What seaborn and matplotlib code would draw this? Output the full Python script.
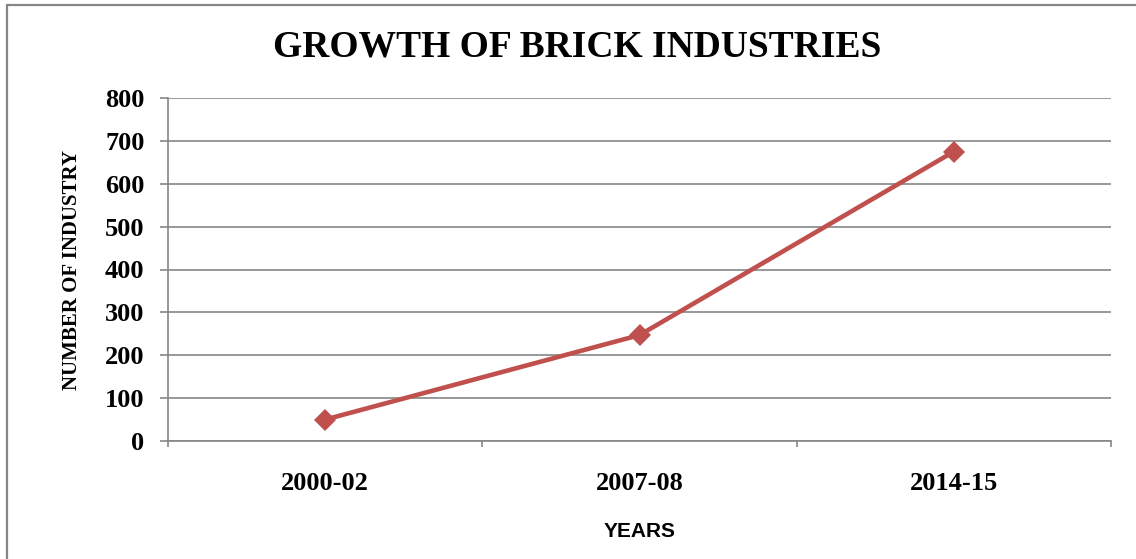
import matplotlib
matplotlib.use("Agg")
import matplotlib.pyplot as plt
import matplotlib.patches as mpatches
from matplotlib.ticker import FixedLocator, NullFormatter
import seaborn as sns
import pandas as pd

# ---- data ----
years = ["2000-02", "2007-08", "2014-15"]
industries = [50, 247, 675]
y_ticks = [0, 100, 200, 300, 400, 500, 600, 700, 800]

title_text = "GROWTH OF BRICK INDUSTRIES"
x_title = "YEARS"
y_title = "NUMBER OF INDUSTRY"

sns.set_theme(style="white")
plt.rcParams["font.family"] = ["Liberation Serif", "DejaVu Serif"]
plt.rcParams["text.color"] = "black"
plt.rcParams["axes.labelcolor"] = "black"
plt.rcParams["xtick.color"] = "black"
plt.rcParams["ytick.color"] = "black"

GRID = "#868686"
LINE = "#C0504D"

fig = plt.figure(figsize=(11.36, 5.59), dpi=100)
ax = fig.add_axes([168/1136, 1-441/559, (1111-168)/1136, (441-98)/559])

df = pd.DataFrame({"year": years, "n": industries})
sns.lineplot(data=df, x="year", y="n", ax=ax, color=LINE, linewidth=3.3,
             marker="D", markersize=11.5, markeredgewidth=0, sort=False)

ax.set_xlim(-0.5, 2.5)
ax.set_ylim(0, 800)
ax.set_yticks(y_ticks)
ax.set_yticklabels([str(v) for v in y_ticks], fontsize=19, fontweight="bold", color="black")
ax.set_xticks(range(len(years)))
ax.set_xticklabels(years, fontsize=19, fontweight="bold", color="black")
ax.tick_params(axis="x", which="major", length=0, pad=22, labelcolor="black")
ax.xaxis.set_minor_locator(FixedLocator([-0.5, 0.5, 1.5, 2.5]))
ax.xaxis.set_minor_formatter(NullFormatter())
ax.tick_params(axis="x", which="minor", bottom=True, length=4, width=1.2, color=GRID, direction="out")
ax.tick_params(axis="y", which="major", left=True, length=6, width=1.2, color=GRID, pad=11, labelcolor="black")

ax.grid(axis="y", color=GRID, linewidth=1.2)
ax.grid(axis="x", visible=False)
for s in ["top", "right"]:
    ax.spines[s].set_visible(False)
for s in ["left", "bottom"]:
    ax.spines[s].set_color(GRID)
    ax.spines[s].set_linewidth(1.2)
ax.set_axisbelow(True)

ax.set_ylabel(y_title, fontsize=15, fontweight="bold", color="black")
ax.yaxis.set_label_coords((82-168)/943, 0.5)
ax.set_xlabel(x_title, fontsize=15, fontweight="bold", color="black",
              family=["Liberation Sans", "DejaVu Sans"])
ax.xaxis.set_label_coords((640-168)/943, (441-522)/343)

fig.text(577/1136, 1-47/559, title_text, ha="center", va="center",
         fontsize=27, fontweight="bold", color="black")

border = mpatches.Rectangle((7/1136, -0.5), 1.5, 1.5-5/559, transform=fig.transFigure,
                            fill=False, edgecolor=GRID, linewidth=1.6, clip_on=False)
fig.patches.append(border)

fig.savefig("out.png", dpi=100)
